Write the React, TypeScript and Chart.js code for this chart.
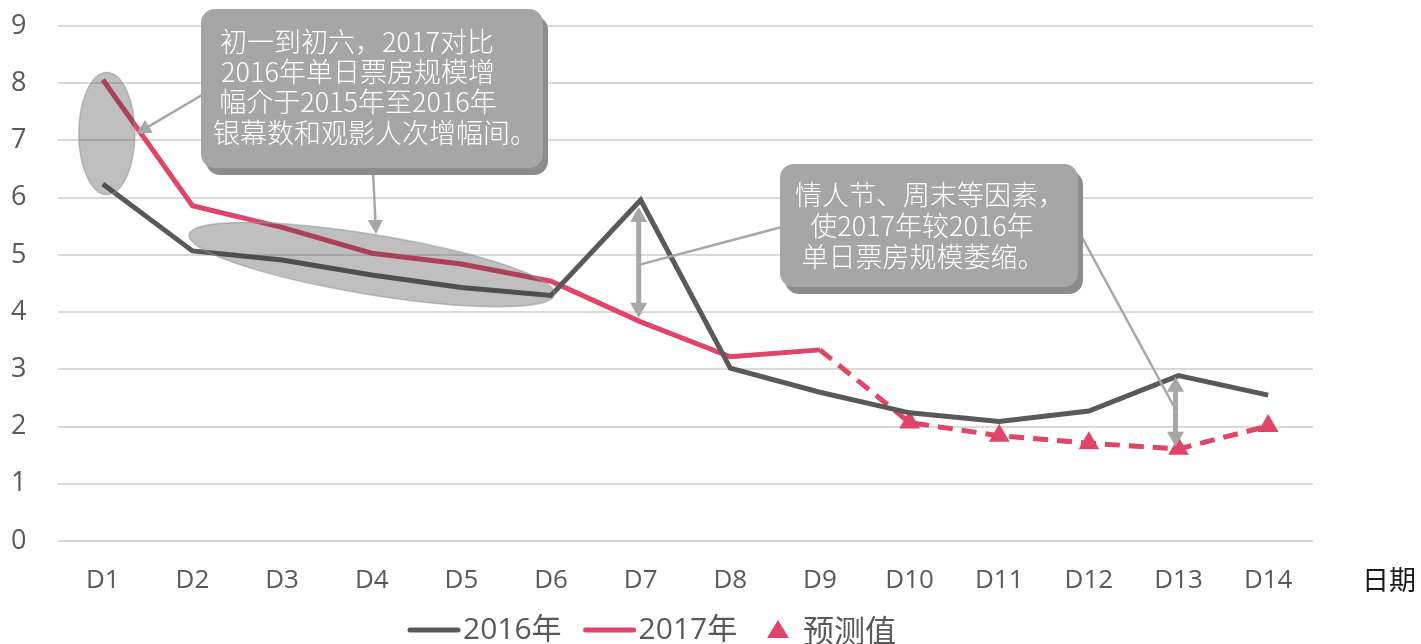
import React, { useEffect, useRef } from "react";
import { Chart, registerables } from "chart.js";

Chart.register(...registerables);

// ---------------- data ----------------
const categories = ["D1", "D2", "D3", "D4", "D5", "D6", "D7", "D8", "D9", "D10", "D11", "D12", "D13", "D14"];
const series2016 = [6.24, 5.07, 4.91, 4.65, 4.43, 4.29, 5.96, 3.02, 2.6, 2.24, 2.09, 2.27, 2.89, 2.55];
const series2017 = [8.06, 5.86, 5.48, 5.03, 4.84, 4.54, 3.83, 3.22, 3.34, 2.07, 1.84, 1.71, 1.61, 2.01];
const forecastStart = 9; // D10 onwards is forecast
const yTickValues = [0, 1, 2, 3, 4, 5, 6, 7, 8, 9];
const legendLabels = ["2016年", "2017年", "预测值"];
const xAxisTitle = "日期";
const note1Lines = ["初一到初六，2017对比", "2016年单日票房规模增", "幅介于2015年至2016年", "银幕数和观影人次增幅间。"];
const note2Lines = ["情人节、周末等因素，", "使2017年较2016年", "单日票房规模萎缩。"];

// ---------------- styles ----------------
const C2016 = "#595959";
const C2017 = "#E04468";
const GRID = "#d9d9d9";
const TICK = "#595959";
const BOX = "#a6a6a6";
const BOX_SHADOW = "#8c8c8c";
const ARROW = "#a6a6a6";
const LATIN = '"Open Sans", "Noto Sans CJK SC", sans-serif';
const CJK = '"Noto Sans CJK SC", "Open Sans", sans-serif';
const CJK_LIGHT = '"Noto Sans CJK SC Light", "Noto Sans CJK SC DemiLight", "Noto Sans CJK SC", sans-serif';

function arrowHead(ctx: CanvasRenderingContext2D, x1: number, y1: number, x2: number, y2: number, len: number, w: number) {
  const a = Math.atan2(y2 - y1, x2 - x1);
  const bx = x2 - len * Math.cos(a);
  const by = y2 - len * Math.sin(a);
  ctx.beginPath();
  ctx.moveTo(x2, y2);
  ctx.lineTo(bx + (w / 2) * Math.sin(a), by - (w / 2) * Math.cos(a));
  ctx.lineTo(bx - (w / 2) * Math.sin(a), by + (w / 2) * Math.cos(a));
  ctx.closePath();
  ctx.fill();
}

function arrow(
  ctx: CanvasRenderingContext2D,
  x1: number, y1: number, x2: number, y2: number,
  lw: number, len: number, w: number, endHead: boolean
) {
  const a = Math.atan2(y2 - y1, x2 - x1);
  let ex = x2, ey = y2;
  if (endHead) { ex = x2 - len * 0.8 * Math.cos(a); ey = y2 - len * 0.8 * Math.sin(a); }
  ctx.save();
  ctx.strokeStyle = ARROW;
  ctx.fillStyle = ARROW;
  ctx.lineWidth = lw;
  ctx.beginPath();
  ctx.moveTo(x1, y1);
  ctx.lineTo(ex, ey);
  ctx.stroke();
  if (endHead) arrowHead(ctx, x1, y1, x2, y2, len, w);
  ctx.restore();
}

function ellipse(ctx: CanvasRenderingContext2D, cx: number, cy: number, rx: number, ry: number, rot: number) {
  ctx.save();
  ctx.beginPath();
  ctx.ellipse(cx, cy, rx, ry, rot, 0, Math.PI * 2);
  ctx.fillStyle = "rgba(60,60,60,0.33)";
  ctx.fill();
  ctx.strokeStyle = "rgba(150,150,150,0.6)";
  ctx.lineWidth = 1.5;
  ctx.stroke();
  ctx.restore();
}

function noteBox(
  ctx: CanvasRenderingContext2D,
  x: number, y: number, w: number, h: number,
  lines: string[], centers: number[], ys: number[]
) {
  ctx.save();
  ctx.fillStyle = BOX_SHADOW;
  ctx.beginPath();
  (ctx as any).roundRect(x + 5, y + 7, w, h, 14);
  ctx.fill();
  ctx.fillStyle = BOX;
  ctx.beginPath();
  (ctx as any).roundRect(x, y, w, h, 14);
  ctx.fill();
  ctx.fillStyle = "#ffffff";
  ctx.font = `300 27px ${CJK_LIGHT}`;
  ctx.textAlign = "center";
  ctx.textBaseline = "middle";
  lines.forEach((t, i) => ctx.fillText(t, centers[i], ys[i]));
  ctx.restore();
}

const annotationPlugin = {
  id: "annotations",
  afterDraw(chart: any) {
    const ctx: CanvasRenderingContext2D = chart.ctx;
    const xs = chart.scales.x;
    const ys = chart.scales.y;

    // ellipses
    ellipse(ctx, xs.getPixelForValue(0) + 4, ys.getPixelForValue(7.12), 28, 61, 0);
    ellipse(ctx, xs.getPixelForValue(3), ys.getPixelForValue(4.83), 185, 30, (9.3 * Math.PI) / 180);

    // double arrows D7 and D13
    const d7x = xs.getPixelForValue(6) - 2;
    const d7a = ys.getPixelForValue(series2016[6]) + 7;
    const d7b = ys.getPixelForValue(series2017[6]) - 4;
    const d7m = (d7a + d7b) / 2;
    arrow(ctx, d7x, d7m, d7x, d7a, 5, 15, 17, true);
    arrow(ctx, d7x, d7m, d7x, d7b, 5, 15, 17, true);
    const d13x = xs.getPixelForValue(12) - 3;
    const d13a = ys.getPixelForValue(series2016[12]) + 1;
    const d13b = ys.getPixelForValue(series2017[12]) - 2;
    const d13m = (d13a + d13b) / 2;
    arrow(ctx, d13x, d13m, d13x, d13a, 5, 15, 17, true);
    arrow(ctx, d13x, d13m, d13x, d13b, 5, 15, 17, true);

    // connectors
    arrow(ctx, 202, 95, 136, 134, 2.5, 15, 15, true);
    arrow(ctx, 373, 170, 376, 234, 2.5, 14, 15, true);
    arrow(ctx, 782, 227, d7x + 2, d7m + 2, 2.5, 0, 0, false);
    arrow(ctx, 1078, 230, d13x - 2, d13m - 6, 2.5, 0, 0, false);

    // boxes
    noteBox(ctx, 201, 9, 342, 159, note1Lines, [357, 358, 358, 375], [42, 72, 102, 133]);
    noteBox(ctx, 780, 164, 298, 123, note2Lines, [930, 922, 923], [195, 226, 257]);

    // x axis title
    ctx.save();
    ctx.fillStyle = "#1a1a1a";
    ctx.font = `27px ${CJK}`;
    ctx.textAlign = "center";
    ctx.textBaseline = "middle";
    ctx.fillText(xAxisTitle, 1389, 580);
    ctx.restore();

    // legend
    ctx.save();
    const ly = 630;
    ctx.font = `30px ${LATIN}`;
    ctx.textBaseline = "middle";
    ctx.textAlign = "left";
    let lx = 408;
    const lineItem = (color: string, label: string) => {
      ctx.strokeStyle = color;
      ctx.lineWidth = 5;
      ctx.lineCap = "round";
      ctx.beginPath();
      ctx.moveTo(lx + 2, ly);
      ctx.lineTo(lx + 50, ly);
      ctx.stroke();
      lx += 55;
      ctx.fillStyle = TICK;
      ctx.fillText(label, lx, ly);
      lx += ctx.measureText(label).width + 22;
    };
    lineItem(C2016, legendLabels[0]);
    lineItem(C2017, legendLabels[1]);
    lx = Math.max(lx + 4, 767);
    ctx.fillStyle = C2017;
    ctx.beginPath();
    ctx.moveTo(lx + 11, ly - 10);
    ctx.lineTo(lx + 22, ly + 8);
    ctx.lineTo(lx, ly + 8);
    ctx.closePath();
    ctx.fill();
    lx += 36;
    ctx.fillStyle = TICK;
    ctx.font = `31px ${CJK}`;
    ctx.fillText(legendLabels[2], lx, ly);
    ctx.restore();
  },
};

export default function App() {
  const ref = useRef<HTMLCanvasElement | null>(null);

  useEffect(() => {
    if (!ref.current) return;
    const chart = new Chart(ref.current, {
      type: "line",
      data: {
        labels: categories,
        datasets: [
          {
            label: legendLabels[0],
            data: series2016,
            borderColor: C2016,
            borderWidth: 5,
            pointRadius: 0,
            tension: 0,
            fill: false,
          },
          {
            label: legendLabels[1],
            data: series2017,
            borderColor: C2017,
            backgroundColor: C2017,
            borderWidth: 5,
            tension: 0,
            fill: false,
            pointStyle: "triangle",
            pointRadius: (c: any) => (c.dataIndex >= forecastStart ? 12 : 0),
            pointBackgroundColor: C2017,
            pointBorderColor: C2017,
            pointBorderWidth: 0,
            segment: {
              borderDash: (c: any) => (c.p0DataIndex >= forecastStart - 1 ? [15, 9] : undefined),
            },
          } as any,
        ],
      },
      options: {
        animation: false,
        responsive: false,
        maintainAspectRatio: false,
        layout: { padding: { top: 26, right: 108, bottom: 44, left: 11 } },
        plugins: { legend: { display: false }, tooltip: { enabled: false } },
        scales: {
          x: {
            type: "category",
            offset: true,
            grid: { display: false, drawTicks: false },
            border: { display: false },
            ticks: { color: TICK, font: { family: LATIN, size: 26 }, padding: 24, maxRotation: 0 },
            afterFit: (s: any) => { s.height = 59; },
          },
          y: {
            min: 0,
            max: 9,
            afterBuildTicks: (s: any) => { s.ticks = yTickValues.map((v) => ({ value: v })); },
            grid: { color: GRID, lineWidth: 2, drawTicks: false },
            border: { display: false },
            ticks: { color: TICK, font: { family: LATIN, size: 27 }, padding: 0, crossAlign: "far" },
            afterFit: (s: any) => { s.width = 47; },
          },
        },
      },
      plugins: [annotationPlugin],
    });
    return () => chart.destroy();
  }, []);

  return (
    <div style={{ position: "absolute", left: 0, top: 0, width: 1421, height: 644, background: "#fff" }}>
      <canvas ref={ref} width={1421} height={644} style={{ display: "block" }} />
    </div>
  );
}
